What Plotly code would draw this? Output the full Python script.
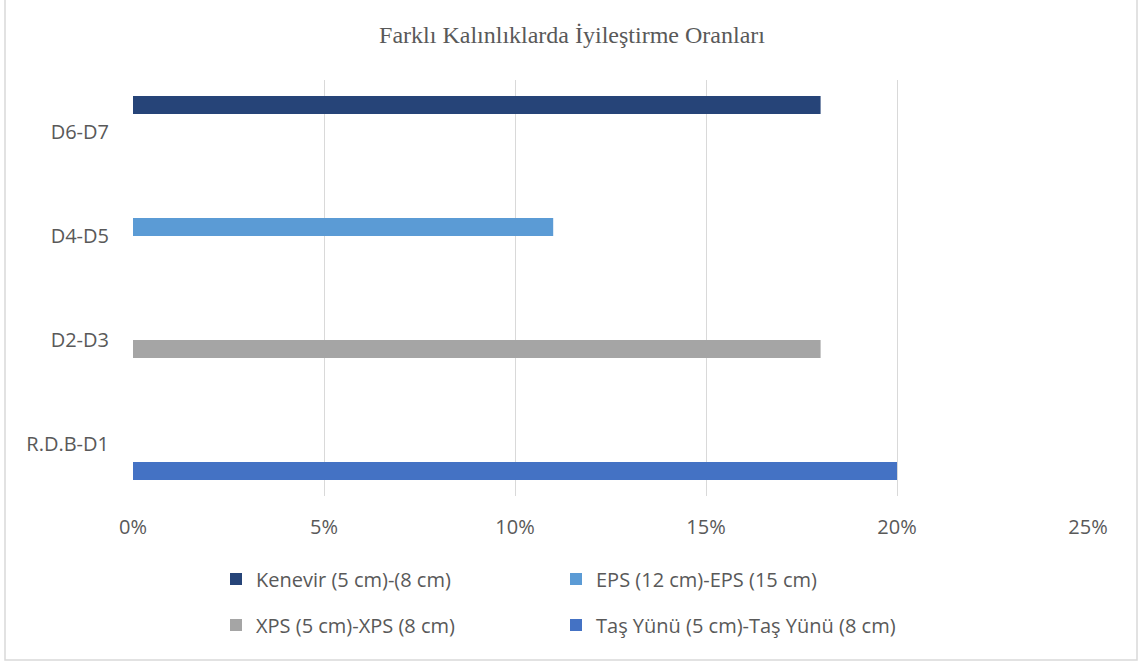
import plotly.graph_objects as go

categories = ["R.D.B-D1", "D2-D3", "D4-D5", "D6-D7"]
series_names = [
    "Taş Yünü (5 cm)-Taş Yünü (8 cm)",
    "XPS (5 cm)-XPS (8 cm)",
    "EPS (12 cm)-EPS (15 cm)",
    "Kenevir (5 cm)-(8 cm)",
]
tas_yunu = [0.20, None, None, None]
xps = [None, 0.18, None, None]
eps = [None, None, 0.11, None]
kenevir = [None, None, None, 0.18]
colors = ["#4472C4", "#A5A5A5", "#5B9BD5", "#264478"]
legend_ids = ["legend2", "legend2", "legend", "legend"]

values = [tas_yunu, xps, eps, kenevir]

W, H = 1140, 664
L, R, T, B = 133, 52, 80, 168
pw, ph = W - L - R, H - T - B

def px_x(x):
    return (x - L) / pw

def px_y(y):
    return (H - B - y) / ph

fig = go.Figure()
for name, vals, col, lg in zip(series_names, values, colors, legend_ids):
    fig.add_trace(go.Bar(
        y=categories, x=vals, name=name, orientation="h",
        marker=dict(color=col, line=dict(width=0)),
        legend=lg,
    ))

font_family = "Open Sans"
txt_col = "#595959"

legend_common = dict(
    orientation="h", traceorder="reversed",
    xanchor="left", yanchor="middle",
    entrywidth=295, entrywidthmode="pixels",
    font=dict(family=font_family, size=20, color=txt_col),
    bgcolor="rgba(0,0,0,0)", itemwidth=30,
)

fig.update_layout(
    width=W, height=H,
    margin=dict(l=L, r=R, t=T, b=B, pad=0),
    paper_bgcolor="white", plot_bgcolor="white",
    barmode="group", bargap=0.31, bargroupgap=0,
    title=dict(
        text="Farklı Kalınlıklarda İyileştirme Oranları",
        x=572 / W, xref="container", xanchor="center",
        y=1 - 35 / H, yref="container", yanchor="middle",
        font=dict(family="Liberation Serif", size=24, color=txt_col),
    ),
    xaxis=dict(
        range=[0, 0.25], dtick=0.05, tick0=0, tickformat=".0%",
        showgrid=True, gridcolor="#D9D9D9", gridwidth=1.3,
        zeroline=False, showline=False, ticks="",
        tickfont=dict(family=font_family, size=20, color=txt_col),
        ticklabelstandoff=17, fixedrange=True,
    ),
    yaxis=dict(
        type="category", categoryorder="array", categoryarray=categories,
        showgrid=False, zeroline=False, showline=False, ticks="",
        tickfont=dict(family=font_family, size=20, color=txt_col),
        ticklabelstandoff=23, fixedrange=True,
    ),
    legend=dict(x=px_x(216), y=px_y(579), **legend_common),
    legend2=dict(x=px_x(216), y=px_y(625), **legend_common),
    showlegend=True,
    shapes=[dict(
        type="rect", xref="paper", yref="paper",
        x0=px_x(5), x1=px_x(1137), y0=px_y(660), y1=px_y(-2),
        line=dict(color="#D9D9D9", width=1.5), fillcolor="rgba(0,0,0,0)",
        layer="below",
    )],
)

fig.write_html(
    "out.html",
    config={"displayModeBar": False},
    post_script="document.body.style.margin='0';document.body.style.overflow='hidden';",
)
